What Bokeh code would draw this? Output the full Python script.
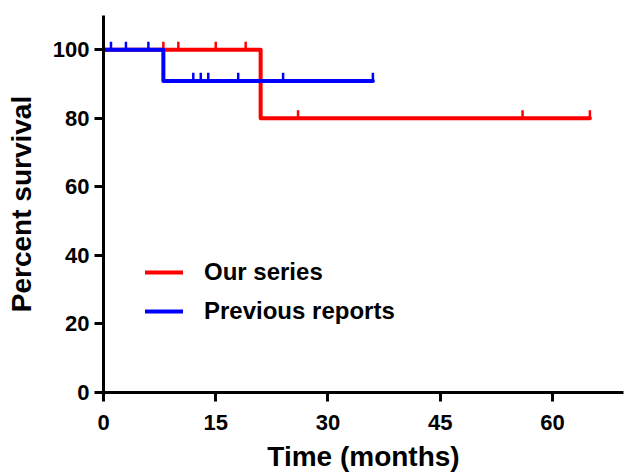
from bokeh.plotting import figure
from bokeh.models import Range1d, FixedTicker, Legend, LegendItem
from bokeh.embed import file_html
from bokeh.resources import INLINE
import math

# Kaplan-Meier step data
our_time = [0, 21, 65]
our_surv = [100, 80, 80]
our_cens_time = [8, 10, 15, 19, 26, 56, 65]
our_cens_surv = [100, 100, 100, 100, 80, 80, 80]

prev_time = [0, 8, 36]
prev_surv = [100, 90.9, 90.9]
prev_cens_time = [1, 3, 6, 12, 13, 14, 18, 24, 36]
prev_cens_surv = [100, 100, 100, 90.9, 90.9, 90.9, 90.9, 90.9, 90.9]

x_ticks = [0, 15, 30, 45, 60]
y_ticks = [0, 20, 40, 60, 80, 100]

FONT = "Liberation Sans"
TICK_LIFT = 1.2  # censor marks sit just above the curve

W, H = 625, 474
LEFT, TOP, BOTTOM, RIGHT = 103, 15, 80, 2

p = figure(width=W, height=H, output_backend="svg", toolbar_location=None,
           x_range=Range1d(0, (W - LEFT - RIGHT) / 7.483), y_range=Range1d(0, 110),
           min_border_left=LEFT, min_border_right=RIGHT, min_border_top=TOP, min_border_bottom=BOTTOM)
p.outline_line_color = None
p.grid.visible = False
p.background_fill_color = "white"
p.border_fill_color = "white"

red = "#FF0000"
blue = "#0000FF"

r_line = p.step(our_time, our_surv, mode="after", line_color=red, line_width=4,
                line_join="round", line_cap="round")
r_cens = p.scatter(our_cens_time, [s + TICK_LIFT for s in our_cens_surv],
                   marker="dash", angle=math.pi / 2, size=8, line_color=red, line_width=2.5)
b_line = p.step(prev_time, prev_surv, mode="after", line_color=blue, line_width=4,
                line_join="round", line_cap="round")
b_cens = p.scatter(prev_cens_time, [s + TICK_LIFT for s in prev_cens_surv],
                   marker="dash", angle=math.pi / 2, size=8, line_color=blue, line_width=2.5)

for ax in (p.xaxis[0], p.yaxis[0]):
    ax.axis_line_width = 3
    ax.major_tick_line_width = 3
    ax.major_tick_out = 9
    ax.major_tick_in = 0
    ax.minor_tick_line_color = None
    ax.major_label_text_font = FONT
    ax.major_label_text_font_style = "bold"
    ax.major_label_text_font_size = "22px"
    ax.major_label_text_color = "black"
    ax.axis_label_text_font = FONT
    ax.axis_label_text_font_style = "bold"
    ax.axis_label_text_font_size = "28px"
    ax.axis_label_text_color = "black"
    ax.axis_line_color = "black"
    ax.major_tick_line_color = "black"

p.xaxis.ticker = FixedTicker(ticks=x_ticks)
p.yaxis.ticker = FixedTicker(ticks=y_ticks)
p.xaxis.axis_label = "Time (months)"
p.yaxis.axis_label = "Percent survival"
p.xaxis.major_label_standoff = 13
p.yaxis.major_label_standoff = 5
p.xaxis.axis_label_standoff = 8
p.yaxis.axis_label_standoff = 13

legend = Legend(items=[LegendItem(label="Our series", renderers=[r_line, r_cens]),
                       LegendItem(label="Previous reports", renderers=[b_line, b_cens])],
                location=(42, 66), orientation="vertical")
legend.border_line_color = None
legend.background_fill_alpha = 0
legend.padding = 0
legend.margin = 0
legend.spacing = 9
legend.glyph_width = 38
legend.glyph_height = 30
legend.label_height = 30
legend.label_standoff = 21
legend.label_text_font = FONT
legend.label_text_font_style = "bold"
legend.label_text_font_size = "24px"
legend.label_text_color = "black"
p.add_layout(legend, "center")

open("out.html", "w").write(file_html(p, INLINE))
